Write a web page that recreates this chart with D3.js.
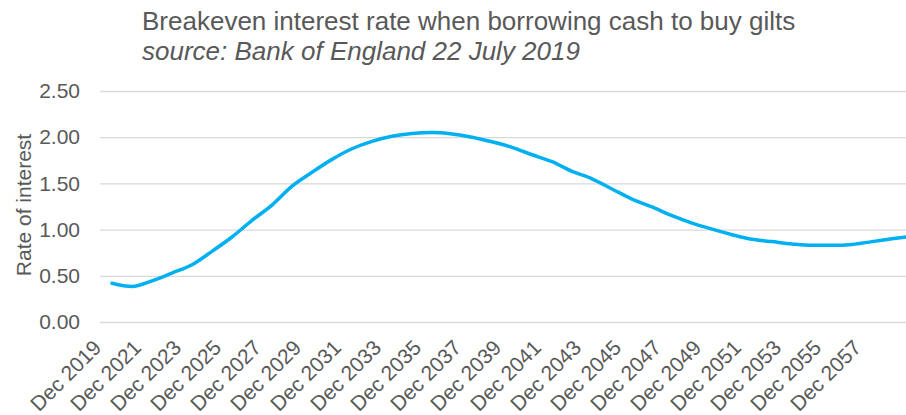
<!DOCTYPE html>
<html>
<head>
<meta charset="utf-8">
<script src="https://cdn.jsdelivr.net/npm/d3@7"></script>
<style>
  body { margin: 0; background: #fff; }
  text { font-family: "Liberation Sans", Arial, sans-serif; fill: #595959; }
</style>
</head>
<body>
<div id="chart"></div>
<script>
// Dec of each year, from Dec 2019
const years = d3.range(2019, 2060);
const rates = [0.42, 0.385, 0.445, 0.53, 0.62, 0.765, 0.92, 1.10, 1.265, 1.47,
  1.62, 1.76, 1.875, 1.955, 2.01, 2.04, 2.05, 2.035, 2.00, 1.95,
  1.89, 1.81, 1.735, 1.63, 1.55, 1.44, 1.33, 1.245, 1.15, 1.07,
  1.005, 0.945, 0.895, 0.87, 0.845, 0.83, 0.83, 0.84, 0.87, 0.90, 0.93];
const tickYears = d3.range(2019, 2058, 2);
const yTicks = [0, 0.5, 1, 1.5, 2, 2.5];

const svgWidth = 906, svgHeight = 415;
const margin = {top: 91, left: 100, bottom: 93, right: 0};
const width = svgWidth - margin.left - margin.right;
const height = svgHeight - margin.top - margin.bottom;

const svg = d3.select("#chart").append("svg")
  .attr("width", svgWidth)
  .attr("height", svgHeight);

// titles
svg.append("text")
  .attr("x", 142).attr("y", 30)
  .style("font-size", "26px")
  .text("Breakeven interest rate when borrowing cash to buy gilts");
svg.append("text")
  .attr("x", 142).attr("y", 60)
  .style("font-size", "26px")
  .style("font-style", "italic")
  .text("source: Bank of England 22 July 2019");

const g = svg.append("g")
  .attr("transform", "translate(" + margin.left + "," + margin.top + ")");

const x = d3.scaleLinear()
  .domain([2018.4, 2058.7])
  .range([0, width]);

const y = d3.scaleLinear()
  .domain([0, 2.5])
  .range([height, 0]);

// gridlines + y labels
const yAxis = g.append("g")
  .call(d3.axisLeft(y).tickValues(yTicks).tickFormat(d3.format(".2f")).tickSize(-width).tickPadding(20));
yAxis.select(".domain").remove();
yAxis.selectAll(".tick line").attr("stroke", "#d9d9d9").attr("stroke-width", 1.3);
yAxis.selectAll(".tick text").style("font-size", "21px");

// x labels
const xAxis = g.append("g")
  .attr("transform", "translate(0," + height + ")")
  .call(d3.axisBottom(x).tickValues(tickYears).tickFormat(d => "Dec " + d).tickSize(0));
xAxis.select(".domain").remove();
xAxis.selectAll(".tick text")
  .attr("x", 0).attr("y", 0).attr("dy", 0)
  .attr("text-anchor", "end")
  .attr("transform", "translate(-10,27) rotate(-45)")
  .style("font-size", "21px");

// y axis title
svg.append("text")
  .attr("transform", "translate(31,205) rotate(-90)")
  .attr("text-anchor", "middle")
  .style("font-size", "21px")
  .text("Rate of interest");

g.append("clipPath").attr("id", "clip")
  .append("rect").attr("x", 0).attr("y", -10).attr("width", width).attr("height", height + 20);

const line = d3.line()
  .x((d, i) => x(years[i]))
  .y(d => y(d))
  .curve(d3.curveMonotoneX);

g.append("path")
  .datum(rates)
  .attr("clip-path", "url(#clip)")
  .attr("fill", "none")
  .attr("stroke", "#00b0f0")
  .attr("stroke-width", 3.5)
  .attr("stroke-linecap", "round")
  .attr("d", line);
</script>
</body>
</html>
